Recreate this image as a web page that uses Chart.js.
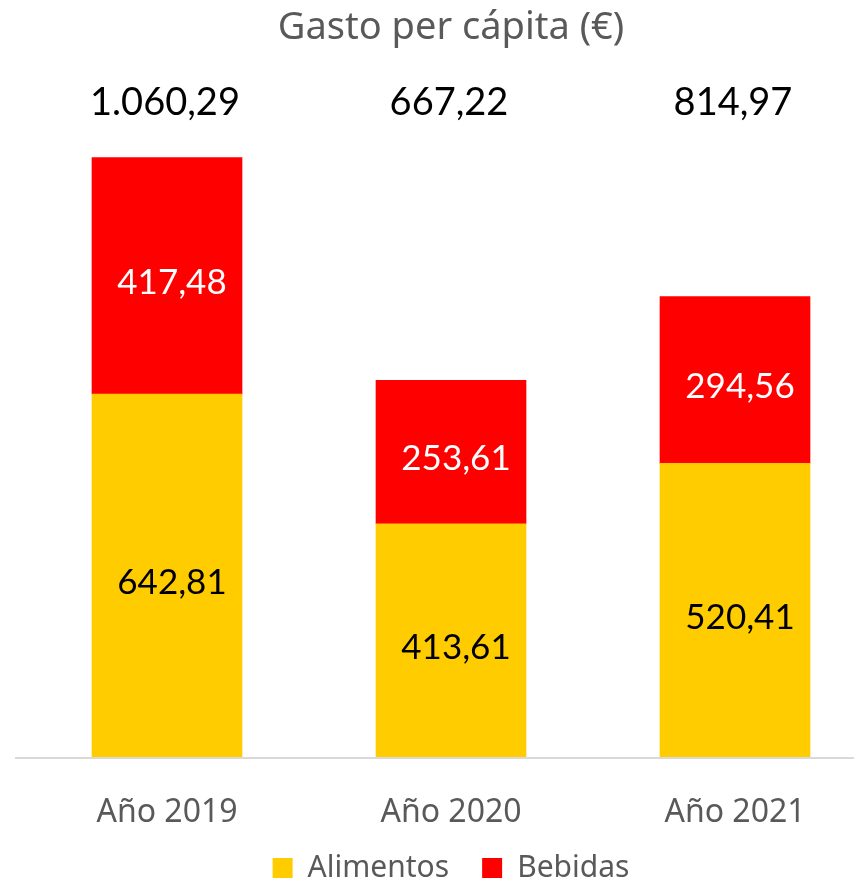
<!DOCTYPE html>
<html>
<head>
<meta charset="utf-8">
<script src="https://cdn.jsdelivr.net/npm/chart.js@4.4.1/dist/chart.umd.min.js"></script>
<style>
  html, body { margin: 0; padding: 0; background: #fff; overflow: hidden; }
  #clip { width: 854px; height: 885px; overflow: hidden; }
  #wrap { width: 902px; height: 885px; position: relative; }
</style>
</head>
<body>
<div id="clip"><div id="wrap"><canvas id="gastoChart"></canvas></div></div>
<script>
// Data
const years = ["Año 2019", "Año 2020", "Año 2021"];
const alimentos = [642.81, 413.61, 520.41];
const bebidas = [417.48, 253.61, 294.56];
const totals = [1060.29, 667.22, 814.97];
const yTicks = [0, 1200];

const YELLOW = "#FFCC00";
const RED = "#FF0000";
const GREY = "#595959";

// 1060.29 -> "1.060,29"
function fmt(v) {
  const parts = v.toFixed(2).split(".");
  parts[0] = parts[0].replace(/\B(?=(\d{3})+(?!\d))/g, ".");
  return parts.join(",");
}

// baseline + value labels drawn on top of the bars
const labelsPlugin = {
  id: "valueLabels",
  afterLayout(chart) {
    // let the year labels overflow into the legend band (no clipping)
    chart.scales.x.bottom += 30;
  },
  afterDatasetsDraw(chart) {
    const ctx = chart.ctx;
    const area = chart.chartArea;
    const y0 = chart.scales.y.getPixelForValue(0);

    ctx.save();
    ctx.strokeStyle = "#D9D9D9";
    ctx.lineWidth = 2;
    ctx.beginPath();
    ctx.moveTo(area.left - 10, y0);
    ctx.lineTo(chart.width, y0);
    ctx.stroke();

    ctx.textAlign = "center";
    ctx.textBaseline = "middle";
    chart.data.datasets.forEach((ds, di) => {
      const meta = chart.getDatasetMeta(di);
      ctx.font = "35px Lato";
      ctx.fillStyle = di === 0 ? "#000000" : "#FFFFFF";
      meta.data.forEach((bar, i) => {
        const yMid = (bar.y + bar.base) / 2 + 7;
        ctx.fillText(fmt(ds.data[i]), bar.x + 5, yMid);
      });
    });

    // totals in a row above the plot
    const meta0 = chart.getDatasetMeta(0);
    ctx.font = "38px Lato";
    ctx.fillStyle = "#000000";
    meta0.data.forEach((bar, i) => {
      ctx.fillText(fmt(totals[i]), bar.x - 2, 103);
    });
    ctx.restore();
  },
};

const ctx = document.getElementById("gastoChart").getContext("2d");
const gastoChart = new Chart(ctx, {
  type: "bar",
  data: {
    labels: years,
    datasets: [
      {
        label: "Alimentos",
        data: alimentos,
        backgroundColor: YELLOW,
        borderWidth: 0,
        barThickness: 150,
      },
      {
        label: "Bebidas",
        data: bebidas,
        backgroundColor: RED,
        borderWidth: 0,
        barThickness: 150,
      },
    ],
  },
  options: {
    responsive: true,
    maintainAspectRatio: false,
    animation: false,
    layout: {
      padding: { left: 25, right: 25, top: 0, bottom: -8 },
    },
    plugins: {
      title: {
        display: true,
        text: "Gasto per cápita (€)",
        color: GREY,
        font: { family: "Noto Sans", size: 38, weight: "normal" },
        padding: { top: 5, bottom: 28 },
      },
      legend: {
        position: "bottom",
        labels: {
          color: GREY,
          boxWidth: 20,
          boxHeight: 20,
          padding: 33,
          font: { family: "Noto Sans", size: 30 },
        },
      },
      tooltip: { enabled: false },
    },
    scales: {
      x: {
        stacked: true,
        grid: { display: false },
        border: { display: false },
        ticks: {
          color: GREY,
          padding: 28,
          font: { family: "Noto Sans", size: 32 },
        },
        afterFit(scale) {
          scale.height = 62;
        },
      },
      y: {
        stacked: true,
        display: false,
        min: yTicks[0],
        max: yTicks[1],
      },
    },
  },
  plugins: [labelsPlugin],
});
</script>
</body>
</html>
